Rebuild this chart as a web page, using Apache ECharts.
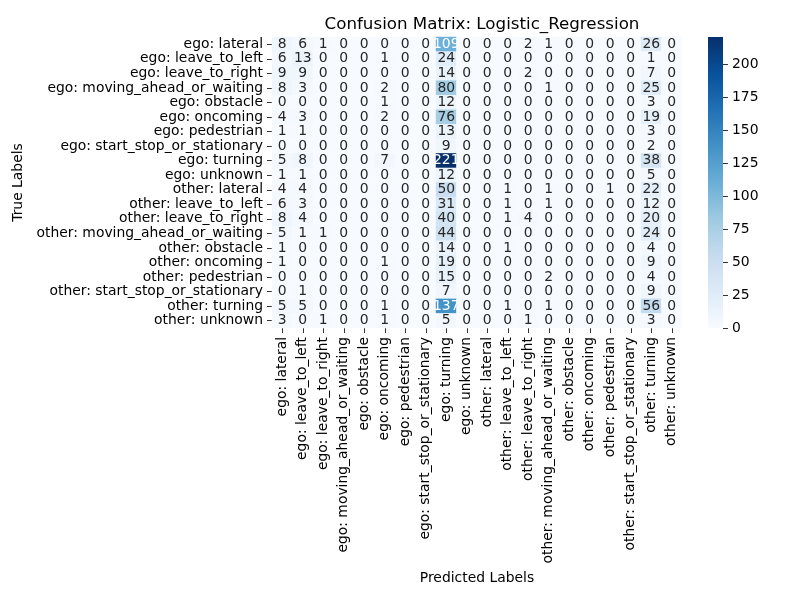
<!DOCTYPE html>
<html lang="en">
<head>
    <meta charset="UTF-8">
    <title>Confusion Matrix</title>
    <script src="https://cdn.jsdelivr.net/npm/echarts@6/dist/echarts.min.js"></script>
    <style>
        html, body { margin: 0; padding: 0; background: #fff; }
    </style>
</head>
<body>

<div id="main" style="width: 800px;height: 600px"></div>

<script>
    var labels = [
        'ego: lateral', 'ego: leave_to_left', 'ego: leave_to_right', 'ego: moving_ahead_or_waiting',
        'ego: obstacle', 'ego: oncoming', 'ego: pedestrian', 'ego: start_stop_or_stationary',
        'ego: turning', 'ego: unknown', 'other: lateral', 'other: leave_to_left',
        'other: leave_to_right', 'other: moving_ahead_or_waiting', 'other: obstacle', 'other: oncoming',
        'other: pedestrian', 'other: start_stop_or_stationary', 'other: turning', 'other: unknown'
    ];

    // rows = true labels, columns = predicted labels
    var matrix = [
        [8, 6, 1, 0, 0, 0, 0, 0, 109, 0, 0, 0, 2, 1, 0, 0, 0, 0, 26, 0],
        [6, 13, 0, 0, 0, 1, 0, 0, 24, 0, 0, 0, 0, 0, 0, 0, 0, 0, 1, 0],
        [9, 9, 0, 0, 0, 0, 0, 0, 14, 0, 0, 0, 2, 0, 0, 0, 0, 0, 7, 0],
        [8, 3, 0, 0, 0, 2, 0, 0, 80, 0, 0, 0, 0, 1, 0, 0, 0, 0, 25, 0],
        [0, 0, 0, 0, 0, 1, 0, 0, 12, 0, 0, 0, 0, 0, 0, 0, 0, 0, 3, 0],
        [4, 3, 0, 0, 0, 2, 0, 0, 76, 0, 0, 0, 0, 0, 0, 0, 0, 0, 19, 0],
        [1, 1, 0, 0, 0, 0, 0, 0, 13, 0, 0, 0, 0, 0, 0, 0, 0, 0, 3, 0],
        [0, 0, 0, 0, 0, 0, 0, 0, 9, 0, 0, 0, 0, 0, 0, 0, 0, 0, 2, 0],
        [5, 8, 0, 0, 0, 7, 0, 0, 221, 0, 0, 0, 0, 0, 0, 0, 0, 0, 38, 0],
        [1, 1, 0, 0, 0, 0, 0, 0, 12, 0, 0, 0, 0, 0, 0, 0, 0, 0, 5, 0],
        [4, 4, 0, 0, 0, 0, 0, 0, 50, 0, 0, 1, 0, 1, 0, 0, 1, 0, 22, 0],
        [6, 3, 0, 0, 0, 0, 0, 0, 31, 0, 0, 1, 0, 1, 0, 0, 0, 0, 12, 0],
        [8, 4, 0, 0, 0, 0, 0, 0, 40, 0, 0, 1, 4, 0, 0, 0, 0, 0, 20, 0],
        [5, 1, 1, 0, 0, 0, 0, 0, 44, 0, 0, 0, 0, 0, 0, 0, 0, 0, 24, 0],
        [1, 0, 0, 0, 0, 0, 0, 0, 14, 0, 0, 1, 0, 0, 0, 0, 0, 0, 4, 0],
        [1, 0, 0, 0, 0, 1, 0, 0, 19, 0, 0, 0, 0, 0, 0, 0, 0, 0, 9, 0],
        [0, 0, 0, 0, 0, 0, 0, 0, 15, 0, 0, 0, 0, 2, 0, 0, 0, 0, 4, 0],
        [0, 1, 0, 0, 0, 0, 0, 0, 7, 0, 0, 0, 0, 0, 0, 0, 0, 0, 9, 0],
        [5, 5, 0, 0, 0, 1, 0, 0, 137, 0, 0, 1, 0, 1, 0, 0, 0, 0, 56, 0],
        [3, 0, 1, 0, 0, 1, 0, 0, 5, 0, 0, 0, 1, 0, 0, 0, 0, 0, 3, 0]
    ];

    var colorbarTicks = [0, 25, 50, 75, 100, 125, 150, 175, 200];

    // matplotlib "Blues"
    var blues = ['#f7fbff', '#deebf7', '#c6dbef', '#9ecae1', '#6baed6', '#4292c6', '#2171b5', '#08519c', '#08306b'];

    var vmin = 0;
    var vmax = 0;
    matrix.forEach(function (row) {
        row.forEach(function (v) { if (v > vmax) vmax = v; });
    });

    var font = 'DejaVu Sans';
    var fs = 13.9;

    var cells = [];
    matrix.forEach(function (row, i) {
        row.forEach(function (v, j) {
            cells.push({
                value: [j, i, v],
                label: { color: (v - vmin) / (vmax - vmin) > 0.45 ? '#ffffff' : '#262626' }
            });
        });
    });

    var gradStops = blues.map(function (c, k) {
        return { offset: 1 - k / (blues.length - 1), color: c };
    });

    var myChart = echarts.init(document.getElementById('main'));

    var option = {
        backgroundColor: '#ffffff',
        animation: false,
        textStyle: { fontFamily: font },
        title: {
            text: 'Confusion Matrix: Logistic_Regression',
            left: 477,
            top: 11,
            textAlign: 'center',
            textStyle: { fontFamily: font, fontSize: 16.7, fontWeight: 'normal', color: '#000' }
        },
        grid: [
            { left: 272, top: 37, width: 410, height: 291 },
            { left: 708, top: 37, width: 15, height: 291 }
        ],
        xAxis: [
            {
                type: 'category',
                gridIndex: 0,
                data: labels,
                position: 'bottom',
                name: 'Predicted Labels',
                nameLocation: 'middle',
                nameGap: 243,
                nameTextStyle: { fontFamily: font, fontSize: fs, color: '#000' },
                axisLine: { show: false },
                axisTick: { show: true, alignWithLabel: true, length: 5, lineStyle: { color: '#000', width: 0.8 } },
                axisLabel: { rotate: 90, interval: 0, margin: 9, fontFamily: font, fontSize: fs, color: '#000' },
                splitLine: { show: false }
            },
            {
                type: 'category',
                gridIndex: 1,
                data: [''],
                show: false
            }
        ],
        yAxis: [
            {
                type: 'category',
                gridIndex: 0,
                data: labels,
                inverse: true,
                name: 'True Labels',
                nameLocation: 'middle',
                nameGap: 242,
                nameRotate: 90,
                nameTextStyle: { fontFamily: font, fontSize: fs, color: '#000' },
                axisLine: { show: false },
                axisTick: { show: true, alignWithLabel: true, length: 5, lineStyle: { color: '#000', width: 0.8 } },
                axisLabel: { interval: 0, margin: 9, fontFamily: font, fontSize: fs, color: '#000' },
                splitLine: { show: false }
            },
            {
                type: 'value',
                gridIndex: 1,
                position: 'right',
                min: vmin,
                max: vmax,
                axisLine: { show: false },
                axisTick: { show: true, length: 5, customValues: colorbarTicks, lineStyle: { color: '#000', width: 0.8 } },
                axisLabel: { margin: 9, customValues: colorbarTicks, fontFamily: font, fontSize: fs, color: '#000' },
                splitLine: { show: false }
            }
        ],
        visualMap: {
            show: false,
            type: 'continuous',
            seriesIndex: 0,
            dimension: 2,
            min: vmin,
            max: vmax,
            inRange: { color: blues }
        },
        series: [
            {
                type: 'heatmap',
                xAxisIndex: 0,
                yAxisIndex: 0,
                data: cells,
                label: {
                    show: true,
                    fontFamily: font,
                    fontSize: fs,
                    formatter: function (p) { return p.value[2]; }
                },
                emphasis: { disabled: true }
            },
            {
                type: 'bar',
                xAxisIndex: 1,
                yAxisIndex: 1,
                data: [vmax],
                barWidth: '100%',
                silent: true,
                itemStyle: {
                    color: new echarts.graphic.LinearGradient(0, 0, 0, 1, gradStops)
                }
            }
        ]
    };

    myChart.setOption(option);
</script>

</body>
</html>
